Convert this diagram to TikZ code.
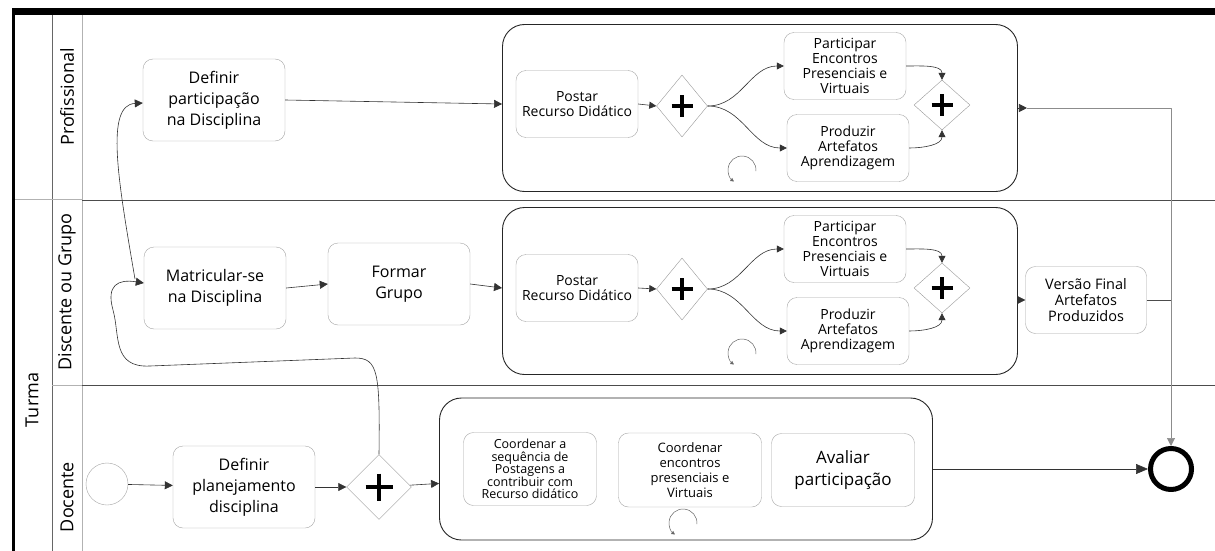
\documentclass[tikz,border=0pt]{standalone}
\usepackage{fontspec}
\setmainfont{Open Sans}
\usetikzlibrary{shapes.geometric,arrows.meta,calc}
\newcommand{\fs}[2]{\fontsize{#1}{#2}\selectfont}

\begin{document}
\begin{tikzpicture}[x=1pt,y=-1pt,line join=round,>={Triangle[length=8pt,width=8pt]}]
\tikzset{
  task/.style={draw=black!35,rounded corners=10pt,align=center,inner sep=1pt,fill=white},
  bigtask/.style={task,minimum width=142pt,minimum height=82pt,font=\fs{16}{21}},
  midtask/.style={task,minimum width=122pt,minimum height=67pt,font=\fs{14}{15}},
  subproc/.style={draw=black!85,line width=0.9pt,rounded corners=22pt},
  gate/.style={diamond,draw=black!40,fill=white,inner sep=0pt},
  plusmark/.style={draw=black,line width=3.6pt,line cap=butt},
  flow/.style={->,draw=black!80,line width=0.6pt},
  small/.style={-{Triangle[length=7pt,width=7pt]}},
  lane/.style={rotate=90,font=\fs{18}{18}},
  loopmark/.style={draw=black!60,line width=0.5pt,-{Triangle[length=3.5pt,width=3.5pt]}},
  lanesep/.style={draw=black!70,line width=0.8pt}
}
\fill[white] (0,0) rectangle (1215,551);
\useasboundingbox (0,0) rectangle (1215,551);

% pool and lanes
\fill (12,8) rectangle (1215,15);
\fill (12,8) rectangle (15,551);
\draw[black!60] (52,15) -- (52,551);
\draw[black!30] (82,15) -- (82,551);
\draw[black!30] (15,199) -- (82,199) (52,385) -- (82,385);
\draw[lanesep] (82,200) -- (1215,200) (82,385) -- (1215,385);
\node[lane] (turma) at (32,400) {Turma};
\node[lane] (lprof) at (67,97) {Profissional};
\node[lane] (ldisc) at (67,292) {Discente ou Grupo};
\node[lane] (ldoc) at (67,497) {Docente};

% subprocessos
\node[subproc,minimum width=515pt,minimum height=167pt] (sub1) at (760,108) {};
\node[subproc,minimum width=515pt,minimum height=167pt] (sub2) at (760,291) {};
\node[subproc,minimum width=493pt,minimum height=142pt] (sub3) at (686,469) {};

% Profissional
\node[bigtask] (part) at (214,100) {Definir\\participação\\na Disciplina};
\node[midtask] (post1) at (577,104) {Postar\\Recurso Didático};
\node[gate,minimum width=51pt,minimum height=62pt] (fork1) at (682,106) {};
\node[midtask] (par1) at (845,66) {Participar\\Encontros\\Presenciais e\\Virtuais};
\node[midtask] (prod1) at (848,148) {Produzir\\Artefatos\\Aprendizagem};
\node[gate,minimum width=56pt,minimum height=50pt] (join1) at (942,105) {};

% Discente ou Grupo
\node[bigtask] (mat) at (215,288) {Matricular-se\\na Disciplina};
\node[bigtask] (form) at (399,284) {Formar\\Grupo};
\node[midtask] (post2) at (577,288) {Postar\\Recurso Didático};
\node[gate,minimum width=51pt,minimum height=62pt] (fork2) at (682,289) {};
\node[midtask] (par2) at (845,249) {Participar\\Encontros\\Presenciais e\\Virtuais};
\node[midtask] (prod2) at (848,331) {Produzir\\Artefatos\\Aprendizagem};
\node[gate,minimum width=56pt,minimum height=50pt] (join2) at (942,288) {};
\node[midtask,minimum width=121pt,font=\fs{14.5}{16}] (ver) at (1086,300) {Versão Final\\Artefatos\\Produzidos};

% Docente
\node[circle,draw=black!35,minimum size=42pt,inner sep=0pt] (start) at (107,484) {};
\node[bigtask] (plan) at (244,487) {Definir\\planejamento\\disciplina};
\node[gate,minimum width=65pt,minimum height=65pt] (fork3) at (379,487) {};
\node[task,minimum width=133pt,minimum height=73pt,font=\fs{12.5}{12.5}] (coord1) at (530,469) {Coordenar a\\sequência de\\Postagens a\\contribuir com\\Recurso didático};
\node[task,minimum width=143pt,minimum height=74pt,font=\fs{13}{15}] (coord2) at (690,470) {Coordenar\\encontros\\presenciais e\\Virtuais};
\node[task,minimum width=143pt,minimum height=73pt,font=\fs{17}{22}] (aval) at (843,470) {Avaliar\\participação};
\node[circle,draw,line width=5pt,minimum size=41pt,inner sep=0pt] (endev) at (1171,469) {};

% plus nos gateways
\foreach \g in {fork1,join1,fork2,join2}
  \draw[plusmark] (\g.center) +(-10.5,0) -- +(10.5,0) +(0,-11) -- +(0,11);
\draw[plusmark] (fork3.center) +(-13.5,0) -- +(13.5,0) +(0,-13.5) -- +(0,13.5);

% loops
\draw[loopmark] (742,170) ++(5:14) arc[start angle=5,end angle=-235,radius=14];
\draw[loopmark] (742,353) ++(5:14) arc[start angle=5,end angle=-235,radius=14];
\draw[loopmark] (683,523) ++(5:14) arc[start angle=5,end angle=-235,radius=14];

% fluxos
\draw[flow] (part.east) -- (sub1.west |- post1);
\draw[flow,small] (post1.east) -- (fork1.west);
\draw[flow,small] (fork1.east) to[out=0,in=180] (par1.west);
\draw[flow,small] (fork1.east) to[out=0,in=180] (prod1.west);
\draw[flow,small] (par1.east) to[out=0,in=90] (join1.north);
\draw[flow,small] (prod1.east) to[out=0,in=-90] (join1.south);
\coordinate (tip1) at ($(sub1.east)+(9,0)$);
\draw[flow] (sub1.east) -- (tip1);
\draw[flow,draw=black!45] (tip1) -| (endev.north);

\draw[flow] (mat.east) -- (form.west);
\draw[flow] (form.east) -- (sub2.west |- post2);
\draw[flow,small] (post2.east) -- (fork2.west);
\draw[flow,small] (fork2.east) to[out=0,in=180] (par2.west);
\draw[flow,small] (fork2.east) to[out=0,in=180] (prod2.west);
\draw[flow,small] (par2.east) to[out=0,in=90] (join2.north);
\draw[flow,small] (prod2.east) to[out=0,in=-90] (join2.south);
\draw[flow] (sub2.east |- ver.west) -- (ver.west);
\draw[draw=black!70,line width=0.6pt] (ver.east) -- (ver.east -| endev);

\draw[flow] (start) -- (plan);
\draw[flow] (plan) -- (fork3);
\draw[flow] (fork3) -- (sub3);
\draw[flow,-{Triangle[length=12pt,width=10pt]}] (sub3) -- (endev);

\draw[flow] (fork3.north) .. controls (380,372) and (378,358) .. (355,358) -- (150,366)
  .. controls (112,368) and (120,335) .. (113,310) .. controls (106,285) and (118,279) .. ([yshift=5pt]mat.west);
\coordinate (split) at (135,279);
\draw[flow] (split) .. controls (118,180) and (105,105) .. ([yshift=-3pt]part.west);
\end{tikzpicture}
\end{document}
